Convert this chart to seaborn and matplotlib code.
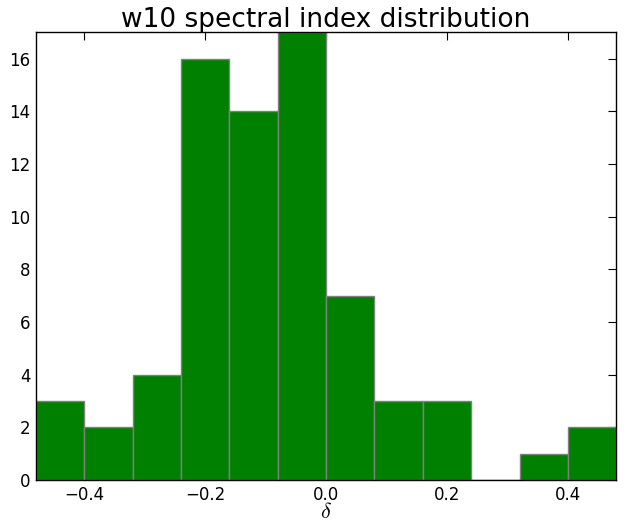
import numpy as np
import pandas as pd
import seaborn as sns
import matplotlib.pyplot as plt

# histogram counts (12 bins of width 0.08)
bin_lo = -0.48
bin_hi = 0.48
counts = [3, 2, 4, 16, 14, 17, 7, 3, 3, 0, 1, 2]

n_bins = len(counts)
edges = np.linspace(bin_lo, bin_hi, n_bins + 1)
centers = (edges[:-1] + edges[1:]) / 2
data = pd.DataFrame({"delta": centers, "count": counts})

sns.set_style("white")
plt.rcParams['font.family'] = ['DejaVu Sans']
plt.rcParams['mathtext.fontset'] = 'cm'
plt.rcParams['text.color'] = 'black'
plt.rcParams['axes.labelcolor'] = 'black'
plt.rcParams['xtick.color'] = 'black'
plt.rcParams['ytick.color'] = 'black'

fig = plt.figure(figsize=(6.32, 5.26), dpi=100)
ax = fig.add_axes([0.057, 0.0875, 0.918, 0.851])

sns.histplot(data=data, x="delta", weights="count", bins=list(edges), color="green",
             edgecolor="gray", linewidth=1, alpha=1, ax=ax)

ax.set_xlim(bin_lo, bin_hi)
ax.set_ylim(0, max(counts))
ax.set_xticks([-0.4, -0.2, 0.0, 0.2, 0.4])
ax.set_yticks(range(0, 17, 2))
ax.tick_params(direction="in", top=True, right=True, length=6, labelsize=12, pad=4,
               colors="black")
for s in ax.spines.values():
    s.set_color("black")
    s.set_linewidth(1)
ax.set_ylabel("")
ax.set_xlabel(r"$\delta$", fontsize=16, labelpad=-1)
ax.set_title("w10 spectral index distribution", fontsize=19, pad=4, color="black")

fig.savefig("out.png", dpi=100)
plt.close(fig)
